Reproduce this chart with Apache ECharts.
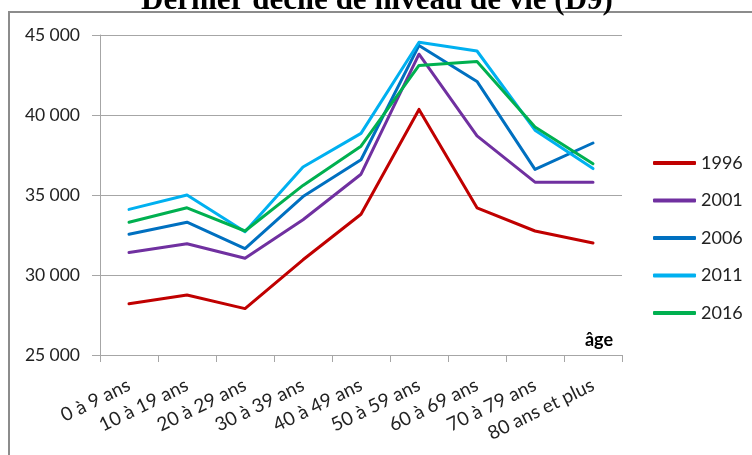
<!DOCTYPE html>
<html>
<head>
<meta charset="utf-8">
<script src="https://cdn.jsdelivr.net/npm/echarts@6/dist/echarts.min.js"></script>
<style>
  html, body { margin: 0; padding: 0; background: #fff; }
  #chart { width: 752px; height: 455px; }
</style>
</head>
<body>
<div id="chart"></div>
<script>
// Tranches d'âge (axe des abscisses)
const ageGroups = ['0 à 9 ans', '10 à 19 ans', '20 à 29 ans', '30 à 39 ans', '40 à 49 ans',
                   '50 à 59 ans', '60 à 69 ans', '70 à 79 ans', '80 ans et plus'];

// D9 du niveau de vie, en euros, par année
const d9_1996 = [28200, 28750, 27900, 30950, 33800, 40350, 34200, 32750, 32000];
const d9_2001 = [31400, 31950, 31050, 33450, 36300, 43800, 38700, 35800, 35800];
const d9_2006 = [32550, 33300, 31650, 34900, 37200, 44350, 42100, 36600, 38250];
const d9_2011 = [34100, 35000, 32700, 36750, 38850, 44550, 44000, 39050, 36650];
const d9_2016 = [33300, 34200, 32750, 35600, 38050, 43100, 43350, 39250, 36950];

const years = ['1996', '2001', '2006', '2011', '2016'];
const yearValues = [d9_1996, d9_2001, d9_2006, d9_2011, d9_2016];
const yearColors = ['#c00000', '#7030a0', '#0070c0', '#00b0f0', '#00b050'];

const titleText = 'Dernier décile de niveau de vie (D9)';
const axisName = 'âge';

const FONT = 'Lato, "Open Sans", sans-serif';
const GRID_GRAY = '#a6a6a6';

const chart = echarts.init(document.getElementById('chart'), null, { renderer: 'canvas' });

// 45000 -> "45 000" (séparateur de milliers à la française)
const fmtThousands = v => String(v).replace(/\B(?=(\d{3})+(?!\d))/g, '\u2005');

chart.setOption({
  animation: false,
  backgroundColor: '#ffffff',
  grid: { left: 100, right: 130, top: 35, bottom: 100, containLabel: false },
  graphic: [
    {
      type: 'rect',
      silent: true,
      shape: { x: 9, y: 12, width: 800, height: 500 },
      style: { fill: 'none', stroke: '#8c8c8c', lineWidth: 2 }
    },
    {
      type: 'text',
      silent: true,
      x: 377, y: 16.5,
      style: {
        text: titleText,
        font: 'bold 31px "Liberation Serif", "Times New Roman", serif',
        fill: '#000',
        align: 'center',
        verticalAlign: 'bottom'
      }
    },
    {
      type: 'text',
      silent: true,
      x: 599, y: 340,
      style: {
        text: axisName,
        font: 'bold 18px ' + FONT,
        fill: '#000',
        align: 'center',
        verticalAlign: 'middle'
      }
    }
  ],
  legend: {
    orient: 'vertical',
    left: 653,
    top: 154,
    padding: 0,
    icon: 'roundRect',
    itemWidth: 43,
    itemHeight: 4,
    itemGap: 19.5,
    textStyle: { fontFamily: FONT, fontSize: 18, color: '#222', lineHeight: 18 },
    data: years
  },
  xAxis: {
    type: 'category',
    data: ageGroups,
    boundaryGap: true,
    axisLine: { lineStyle: { color: GRID_GRAY, width: 1 } },
    axisTick: { show: true, length: 7, lineStyle: { color: GRID_GRAY } },
    axisLabel: {
      rotate: 26,
      margin: 29,
      interval: 0,
      fontFamily: FONT,
      fontSize: 19,
      color: '#222'
    }
  },
  yAxis: {
    type: 'value',
    min: 25000,
    max: 45000,
    interval: 5000,
    axisLine: { show: true, lineStyle: { color: GRID_GRAY, width: 1 } },
    axisTick: { show: true, length: 8, lineStyle: { color: GRID_GRAY } },
    splitLine: { show: true, lineStyle: { color: GRID_GRAY, width: 1 } },
    axisLabel: {
      margin: 20,
      fontFamily: FONT,
      fontSize: 17.5,
      color: '#222',
      formatter: fmtThousands
    }
  },
  series: years.map((y, i) => ({
    name: y,
    type: 'line',
    data: yearValues[i],
    symbol: 'none',
    smooth: false,
    lineStyle: { width: 3, color: yearColors[i], cap: 'round', join: 'round' },
    itemStyle: { color: yearColors[i] }
  }))
});
</script>
</body>
</html>
